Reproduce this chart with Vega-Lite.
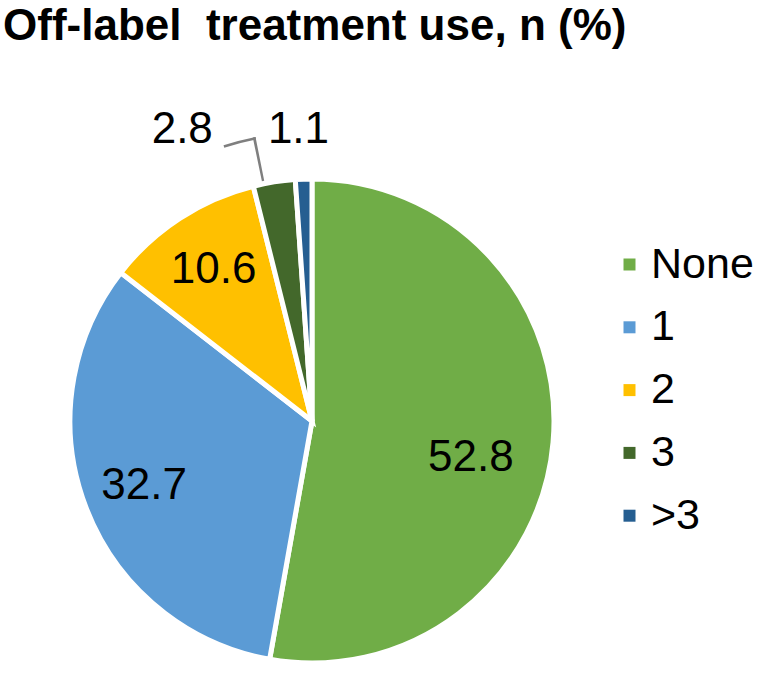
{
  "$schema": "https://vega.github.io/schema/vega-lite/v6.json",
  "autosize": "none",
  "width": 490,
  "height": 490,
  "padding": {"left": 67, "top": 176, "right": 204, "bottom": 9},
  "background": "white",
  "title": {
    "text": "Off-label\u00a0 treatment use, n (%)",
    "anchor": "start",
    "frame": "group",
    "font": "Liberation Sans",
    "fontWeight": "bold",
    "fontSize": 44,
    "color": "black",
    "dx": -64,
    "offset": 45
  },
  "data": {
    "values": [
      {"cat": "None", "pct": 52.8, "k": 1},
      {"cat": "1", "pct": 32.7, "k": 2},
      {"cat": "2", "pct": 10.6, "k": 3},
      {"cat": "3", "pct": 2.8, "k": 4},
      {"cat": ">3", "pct": 1.1, "k": 5}
    ]
  },
  "encoding": {
    "theta": {"field": "pct", "type": "quantitative", "stack": true, "scale": {"domain": [0, 100]}},
    "order": {"field": "k", "type": "quantitative"}
  },
  "layer": [
    {
      "mark": {"type": "arc", "outerRadius": 242, "stroke": "white", "strokeWidth": 5},
      "encoding": {
        "color": {
          "field": "cat",
          "type": "nominal",
          "scale": {
            "domain": ["None", "1", "2", "3", ">3"],
            "range": ["#70AD47", "#5B9BD5", "#FFC000", "#43682B", "#255E91"]
          },
          "legend": {
            "title": null,
            "orient": "none",
            "legendX": 541,
            "legendY": 67,
            "symbolType": "square",
            "symbolSize": 144,
            "symbolStrokeWidth": 0,
            "labelFontSize": 43,
            "labelFont": "Liberation Sans",
            "labelColor": "black",
            "labelOffset": 0,
            "rowPadding": 18.8,
            "padding": 0
          }
        }
      }
    },
    {
      "transform": [
        {"stack": "pct", "groupby": [], "sort": [{"field": "k", "order": "ascending"}], "as": ["s0", "s1"]},
        {"filter": "datum.cat === '3'"}
      ],
      "mark": {"type": "arc", "radius": 289.5, "radius2": 287, "thetaOffset": -0.0656, "theta2Offset": -0.1272, "color": "#7F7F7F"},
      "encoding": {
        "theta": {"field": "s0", "type": "quantitative", "scale": {"domain": [0, 100]}},
        "theta2": {"field": "s1"}
      }
    },
    {
      "transform": [
        {"stack": "pct", "groupby": [], "sort": [{"field": "k", "order": "ascending"}], "as": ["s0", "s1"]},
        {"filter": "datum.cat === '3'"}
      ],
      "mark": {"type": "arc", "radius": 289.5, "radius2": 245, "thetaOffset": 0.0391, "theta2Offset": -0.1272, "color": "#7F7F7F"},
      "encoding": {
        "theta": {"field": "s0", "type": "quantitative", "scale": {"domain": [0, 100]}},
        "theta2": {"field": "s1"}
      }
    },
    {
      "mark": {"type": "text", "radius": 180, "fontSize": 44, "font": "Liberation Sans"},
      "encoding": {
        "detail": {"field": "cat"},
        "color": {"value": "black"},
        "text": {"condition": {"test": "datum.cat === '1' || datum.cat === '2'", "field": "pct", "type": "quantitative", "format": ".1f"}, "value": ""}
      }
    },
    {
      "mark": {"type": "text", "radius": 163, "thetaOffset": 0.139, "fontSize": 44, "font": "Liberation Sans"},
      "encoding": {
        "detail": {"field": "cat"},
        "color": {"value": "black"},
        "text": {"condition": {"test": "datum.cat === 'None'", "field": "pct", "type": "quantitative", "format": ".1f"}, "value": ""}
      }
    },
    {
      "mark": {"type": "text", "radius": 291, "thetaOffset": -0.012, "fontSize": 44, "font": "Liberation Sans"},
      "encoding": {
        "detail": {"field": "cat"},
        "color": {"value": "black"},
        "text": {"condition": {"test": "datum.cat === '>3'", "field": "pct", "type": "quantitative", "format": ".1f"}, "value": ""}
      }
    },
    {
      "mark": {"type": "text", "radius": 319, "thetaOffset": -0.2618, "fontSize": 44, "font": "Liberation Sans"},
      "encoding": {
        "detail": {"field": "cat"},
        "color": {"value": "black"},
        "text": {"condition": {"test": "datum.cat === '3'", "field": "pct", "type": "quantitative", "format": ".1f"}, "value": ""}
      }
    }
  ]
}
